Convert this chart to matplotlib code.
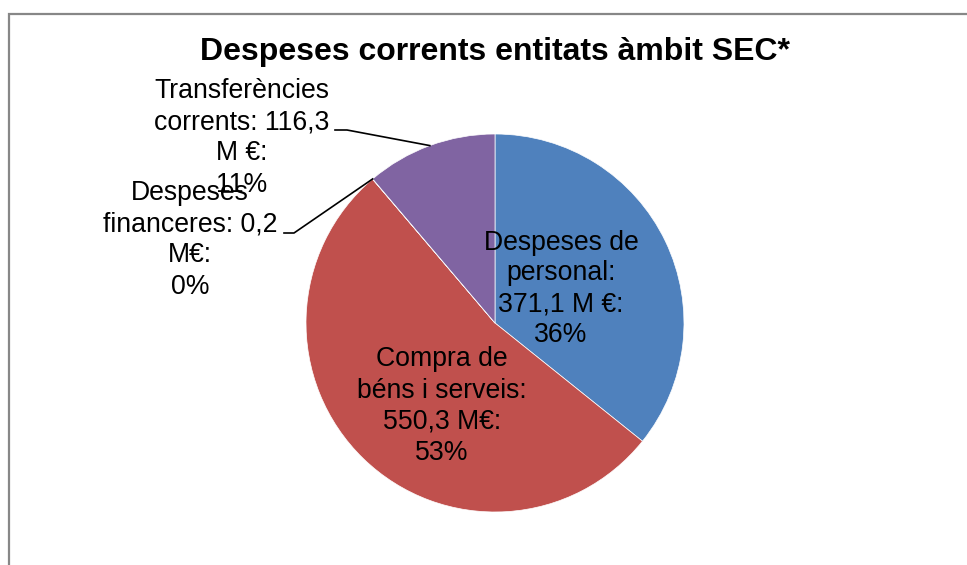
import numpy as np
import matplotlib.pyplot as plt
from matplotlib.patches import Rectangle

plt.rcParams['font.family'] = ['Liberation Sans', 'DejaVu Sans']

# Data (M EUR)
categories = ['Despeses de personal', 'Compra de béns i serveis',
              'Despeses financeres', 'Transferències corrents']
values = [371.1, 550.3, 0.2, 116.3]
labels = ['Despeses de\npersonal:\n371,1 M €:\n36%',
          'Compra de\nbéns i serveis:\n550,3 M€:\n53%',
          'Despeses\nfinanceres: 0,2\nM€:\n0%',
          'Transferències\ncorrents: 116,3\nM €:\n11%']
colors = ['#4F81BD', '#C0504D', '#9BBB59', '#8064A2']

W, H = 967, 565
fig = plt.figure(figsize=(W / 100, H / 100), dpi=100)
ax = fig.add_axes([0, 0, 1, 1])

cx, cy, r = 495, H - 323, 189
wedges, _ = ax.pie(values, colors=colors, startangle=90, counterclock=False,
                   center=(cx, cy), radius=r, frame=True,
                   wedgeprops={'edgecolor': 'white', 'linewidth': 0.5})
ax.set_xlim(0, W)
ax.set_ylim(0, H)
ax.set_aspect('equal')
ax.axis('off')

# chart frame
ax.add_patch(Rectangle((9, -10), W + 10, H - 14 + 10, fill=False,
                       edgecolor='#878787', linewidth=1.6))

fs = 19.2
ls = 1.25
# inside labels
ax.text(561, H - 289, labels[0], ha='center', va='center', fontsize=fs, linespacing=ls)
ax.text(442, H - 406, labels[1], ha='center', va='center', fontsize=fs, linespacing=ls)

# outside labels with leader lines
outside = [(2, 190, H - 240, 284, 294, H - 233),
           (3, 242, H - 138, 335, 347, H - 130)]
for idx, tx, ty, lx0, lx1, ly in outside:
    w = wedges[idx]
    if idx == 3:
        ang = np.deg2rad((w.theta1 + w.theta2) / 2)
    else:
        ang = np.deg2rad(w.theta1)
    px, py = cx + r * np.cos(ang), cy + r * np.sin(ang)
    ax.plot([lx0, lx1, px], [ly, ly, py], color='black', linewidth=1.2)
    ax.text(tx, ty, labels[idx], ha='center', va='center', fontsize=fs, linespacing=ls)

ax.text(495, H - 52, 'Despeses corrents entitats àmbit SEC*', ha='center', va='center',
        fontsize=23, fontweight='bold')

fig.savefig('out.png', dpi=100)
